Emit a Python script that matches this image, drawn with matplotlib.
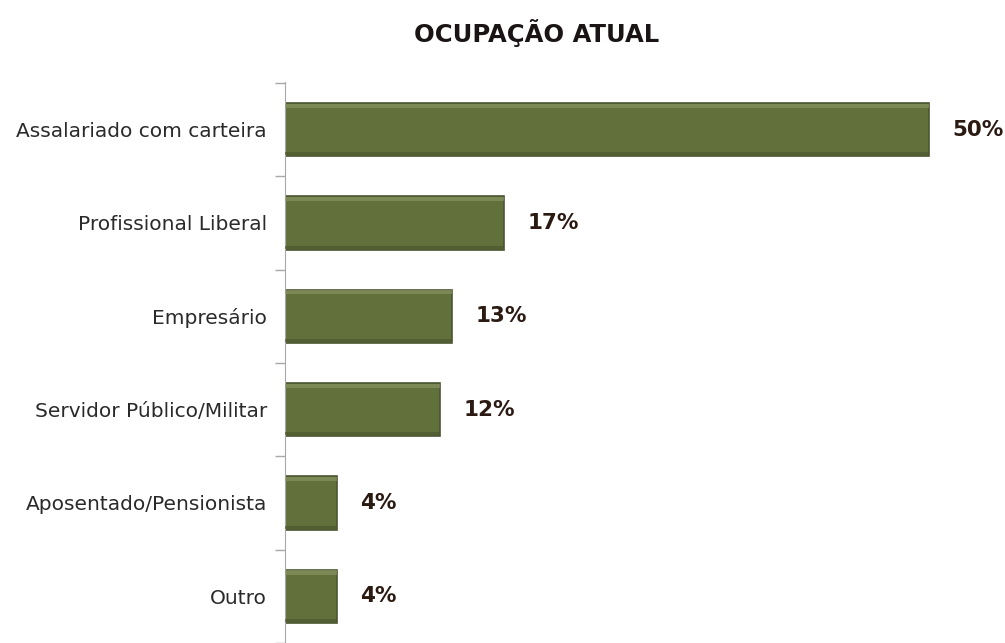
import matplotlib.pyplot as plt

categorias = ['Assalariado com carteira', 'Profissional Liberal', 'Empresário',
              'Servidor Público/Militar', 'Aposentado/Pensionista', 'Outro']
percentuais = [50, 17, 13, 12, 4, 4]
rotulos = ['50%', '17%', '13%', '12%', '4%', '4%']

fig = plt.figure(figsize=(10.05, 6.43), dpi=100)
ax = fig.add_axes([285 / 1005, 0, 720 / 1005, 561 / 643])

pos = list(range(len(categorias)))
alt = 0.57
barras = ax.barh(pos, percentuais, height=alt, color='#62703c',
                 edgecolor='#4b5630', linewidth=1.2, zorder=2)

# chanfro: faixa clara no topo e faixa escura embaixo
for b in barras:
    topo = b.get_y()
    ax.barh(topo + alt * 0.05, b.get_width(), height=alt * 0.08, left=0,
            color='#8e9a6a', linewidth=0, zorder=3, alpha=0.6)
    ax.barh(topo + alt * 0.955, b.get_width(), height=alt * 0.06, left=0,
            color='#4a542e', linewidth=0, zorder=3, alpha=0.6)

for p, v, r in zip(pos, percentuais, rotulos):
    ax.annotate(r, (v, p), xytext=(17, 0), textcoords='offset points',
                ha='left', va='center', fontsize=15.5, fontweight='bold',
                color='#2b1a12')

ax.set_xlim(0, 50 * 720 / 644)
ax.set_ylim(5.42, -0.51)

ax.set_yticks(pos)
ax.set_yticklabels(categorias, fontsize=14.5, color='#2a2a2a')
ax.tick_params(axis='y', which='major', length=0, pad=13)
ax.set_yticks([p - 0.5 for p in pos] + [5.5], minor=True)
ax.tick_params(axis='y', which='minor', length=7, color='#a8a8a8', width=1)
ax.set_xticks([])

for s in ['top', 'right', 'bottom']:
    ax.spines[s].set_visible(False)
ax.spines['left'].set_color('#a8a8a8')

fig.text(537 / 1005, 1 - 33 / 643, 'OCUPAÇÃO ATUAL', ha='center', va='center',
         fontsize=17.5, fontweight='bold', color='#1a1414')

fig.savefig('out.png', dpi=100, facecolor='white')
